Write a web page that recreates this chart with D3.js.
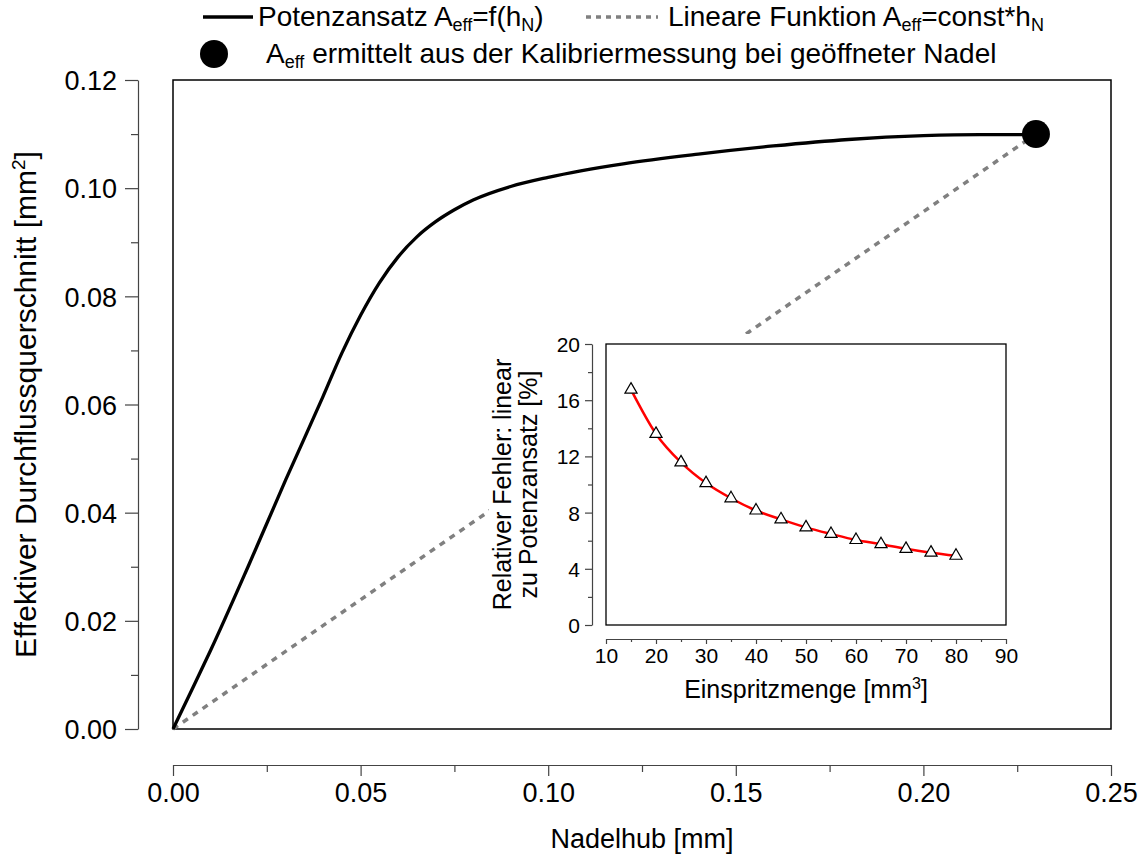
<!DOCTYPE html>
<html>
<head>
<meta charset="utf-8">
<script src="https://cdn.jsdelivr.net/npm/d3@7"></script>
<style>
  body { margin: 0; background: #fff; }
  svg { font-family: "Liberation Sans", Arial, sans-serif; }
</style>
</head>
<body>
<div id="chart"></div>
<script>
// Hauptdiagramm: Potenzansatz
var hubWerte  = [0, 0.005, 0.01, 0.02, 0.03, 0.04, 0.045, 0.05, 0.055, 0.06, 0.065, 0.07, 0.075, 0.08, 0.09, 0.10, 0.12, 0.14, 0.16, 0.18, 0.20, 0.215, 0.23];
var aeffWerte = [0, 0.0072, 0.0145, 0.030, 0.046, 0.0615, 0.0695, 0.0765, 0.0825, 0.0873, 0.091, 0.0938, 0.096, 0.0978, 0.1003, 0.102, 0.1045, 0.1063, 0.1078, 0.109, 0.1097, 0.1099, 0.1099];
// Lineare Funktion
var linHub  = [0, 0.23];
var linAeff = [0, 0.11];
// Kalibrierpunkt
var kalibHub = 0.23, kalibAeff = 0.11;

var xTicks = [0, 0.05, 0.10, 0.15, 0.20, 0.25];
var yTicks = [0, 0.02, 0.04, 0.06, 0.08, 0.10, 0.12];

// Inset: relativer Fehler
var menge  = [15, 20, 25, 30, 35, 40, 45, 50, 55, 60, 65, 70, 75, 80];
var fehler = [16.75, 13.6, 11.57, 10.1, 9.02, 8.15, 7.52, 6.95, 6.48, 6.05, 5.75, 5.42, 5.15, 4.93];
var ixTicks = [10, 20, 30, 40, 50, 60, 70, 80, 90];
var iyTicks = [0, 4, 8, 12, 16, 20];

var width = 1146, height = 856;
var frame = {left: 173, right: 1111, top: 80, bottom: 729};

var svg = d3.select("#chart").append("svg")
    .attr("width", width)
    .attr("height", height);

var x = d3.scaleLinear().domain([0, 0.25]).range([frame.left, frame.right]);
var y = d3.scaleLinear().domain([0, 0.12]).range([frame.bottom, frame.top]);

// Rahmen
svg.append("rect")
    .attr("x", frame.left).attr("y", frame.top)
    .attr("width", frame.right - frame.left)
    .attr("height", frame.bottom - frame.top)
    .attr("fill", "none").attr("stroke", "#000").attr("stroke-width", 1.5);

// X - Achse (abgesetzt)
var xAxis = svg.append("g")
    .attr("transform", "translate(0,765)")
    .call(d3.axisBottom(x).tickValues(xTicks).tickSize(11).tickSizeOuter(0).tickFormat(d3.format(".2f")));
svg.append("g")
    .attr("transform", "translate(0,765)")
    .call(d3.axisBottom(x).tickValues(d3.range(0.025, 0.25, 0.05)).tickSize(7).tickFormat(""))
    .select(".domain").remove();

// Y - Achse (abgesetzt)
var yAxis = svg.append("g")
    .attr("transform", "translate(138,0)")
    .call(d3.axisLeft(y).tickValues(yTicks).tickSize(13).tickSizeOuter(0).tickFormat(d3.format(".2f")));
svg.append("g")
    .attr("transform", "translate(138,0)")
    .call(d3.axisLeft(y).tickValues(d3.range(0.01, 0.12, 0.02)).tickSize(7).tickFormat(""))
    .select(".domain").remove();

svg.selectAll(".tick line, .domain").attr("stroke", "#444").attr("stroke-width", 1.2);
xAxis.selectAll("text").attr("font-size", 27).attr("fill", "#000").attr("y", 0).attr("dy", 0)
    .attr("transform", "translate(0,37)");
yAxis.selectAll("text").attr("font-size", 27).attr("fill", "#000").attr("x", -21).attr("dy", "0.36em");

// Achsentitel
svg.append("text")
    .attr("x", (frame.left + frame.right) / 2).attr("y", 848)
    .attr("text-anchor", "middle").attr("font-size", 27)
    .text("Nadelhub [mm]");

var yt = svg.append("text")
    .attr("transform", "translate(36," + (frame.top + frame.bottom) / 2 + ") rotate(-90)")
    .attr("text-anchor", "middle").attr("font-size", 30);
yt.append("tspan").text("Effektiver Durchflussquerschnitt [mm");
yt.append("tspan").attr("font-size", 19).attr("dy", -11).text("2");
yt.append("tspan").attr("dy", 11).text("]");

// Lineare Funktion (gestrichelt)
svg.append("path")
    .datum(d3.zip(linHub, linAeff))
    .attr("d", d3.line().x(d => x(d[0])).y(d => y(d[1])))
    .attr("fill", "none").attr("stroke", "#808080")
    .attr("stroke-width", 3.5).attr("stroke-dasharray", "6,6");

// Potenzansatz
svg.append("path")
    .datum(d3.zip(hubWerte, aeffWerte))
    .attr("d", d3.line().x(d => x(d[0])).y(d => y(d[1])).curve(d3.curveMonotoneX))
    .attr("fill", "none").attr("stroke", "#000").attr("stroke-width", 3.3);

// Kalibrierpunkt
svg.append("circle")
    .attr("cx", x(kalibHub)).attr("cy", y(kalibAeff)).attr("r", 14)
    .attr("fill", "#000");

// Legende
var leg = svg.append("g").attr("font-size", 28);
leg.append("line").attr("x1", 203).attr("x2", 253).attr("y1", 17).attr("y2", 17)
    .attr("stroke", "#000").attr("stroke-width", 3.3);
var t1 = leg.append("text").attr("x", 258).attr("y", 26);
t1.append("tspan").text("Potenzansatz A");
t1.append("tspan").attr("font-size", 18).attr("dy", 5).text("eff");
t1.append("tspan").attr("dy", -5).text("=f(h");
t1.append("tspan").attr("font-size", 18).attr("dy", 5).text("N");
t1.append("tspan").attr("dy", -5).text(")");
leg.append("line").attr("x1", 586).attr("x2", 658).attr("y1", 17).attr("y2", 17)
    .attr("stroke", "#808080").attr("stroke-width", 3.3).attr("stroke-dasharray", "5,5");
var t2 = leg.append("text").attr("x", 668).attr("y", 26);
t2.append("tspan").text("Lineare Funktion A");
t2.append("tspan").attr("font-size", 18).attr("dy", 5).text("eff");
t2.append("tspan").attr("dy", -5).text("=const*h");
t2.append("tspan").attr("font-size", 18).attr("dy", 5).text("N");
leg.append("circle").attr("cx", 214).attr("cy", 54).attr("r", 14).attr("fill", "#000");
var t3 = leg.append("text").attr("x", 266).attr("y", 63);
t3.append("tspan").text("A");
t3.append("tspan").attr("font-size", 18).attr("dy", 5).text("eff");
t3.append("tspan").attr("dy", -5).text(" ermittelt aus der Kalibriermessung bei geöffneter Nadel");

// Inset
var inset = {left: 606, right: 1006, top: 344, bottom: 625};
var ix = d3.scaleLinear().domain([10, 90]).range([inset.left, inset.right]);
var iy = d3.scaleLinear().domain([0, 20]).range([inset.bottom, inset.top]);

svg.append("rect") // weisser Hintergrund
    .attr("x", 489).attr("y", 334)
    .attr("width", 545).attr("height", 375)
    .attr("fill", "#fff");

svg.append("rect")
    .attr("x", inset.left).attr("y", inset.top)
    .attr("width", inset.right - inset.left)
    .attr("height", inset.bottom - inset.top)
    .attr("fill", "none").attr("stroke", "#000").attr("stroke-width", 1.3);

var ixAxis = svg.append("g")
    .attr("transform", "translate(0,639)")
    .call(d3.axisBottom(ix).tickValues(ixTicks).tickSize(5).tickSizeOuter(0));
svg.append("g")
    .attr("transform", "translate(0,639)")
    .call(d3.axisBottom(ix).tickValues(d3.range(15, 90, 10)).tickSize(3).tickFormat(""))
    .select(".domain").remove();
var iyAxis = svg.append("g")
    .attr("transform", "translate(592,0)")
    .call(d3.axisLeft(iy).tickValues(iyTicks).tickSize(7).tickSizeOuter(0));
svg.append("g")
    .attr("transform", "translate(592,0)")
    .call(d3.axisLeft(iy).tickValues(d3.range(2, 20, 4)).tickSize(4).tickFormat(""))
    .select(".domain").remove();

svg.selectAll(".tick line, .domain").attr("stroke", "#444").attr("stroke-width", 1.2);
ixAxis.selectAll("text").attr("font-size", 21).attr("fill", "#000").attr("y", 24).attr("dy", 0);
iyAxis.selectAll("text").attr("font-size", 21).attr("fill", "#000").attr("x", -12).attr("dy", "0.36em");

var ixt = svg.append("text")
    .attr("x", (inset.left + inset.right) / 2).attr("y", 698)
    .attr("text-anchor", "middle").attr("font-size", 25);
ixt.append("tspan").text("Einspritzmenge [mm");
ixt.append("tspan").attr("font-size", 16).attr("dy", -9).text("3");
ixt.append("tspan").attr("dy", 9).text("]");

var iyt = svg.append("text")
    .attr("transform", "translate(511," + (inset.top + inset.bottom) / 2 + ") rotate(-90)")
    .attr("text-anchor", "middle").attr("font-size", 25);
iyt.append("tspan").attr("x", 0).attr("dy", 0).text("Relativer Fehler: linear");
iyt.append("tspan").attr("x", 0).attr("dy", 26).text("zu Potenzansatz [%]");

// Fehlerkurve
svg.append("path")
    .datum(d3.zip(menge, fehler))
    .attr("d", d3.line().x(d => ix(d[0])).y(d => iy(d[1])).curve(d3.curveMonotoneX))
    .attr("fill", "none").attr("stroke", "#ff0000").attr("stroke-width", 2.5);

svg.selectAll(".tri")
    .data(d3.zip(menge, fehler))
    .enter().append("path")
    .attr("class", "tri")
    .attr("transform", d => "translate(" + ix(d[0]) + "," + iy(d[1]) + ")")
    .attr("d", d3.symbol().type(d3.symbolTriangle).size(64))
    .attr("fill", "#fff").attr("stroke", "#000").attr("stroke-width", 1.2);
</script>
</body>
</html>
